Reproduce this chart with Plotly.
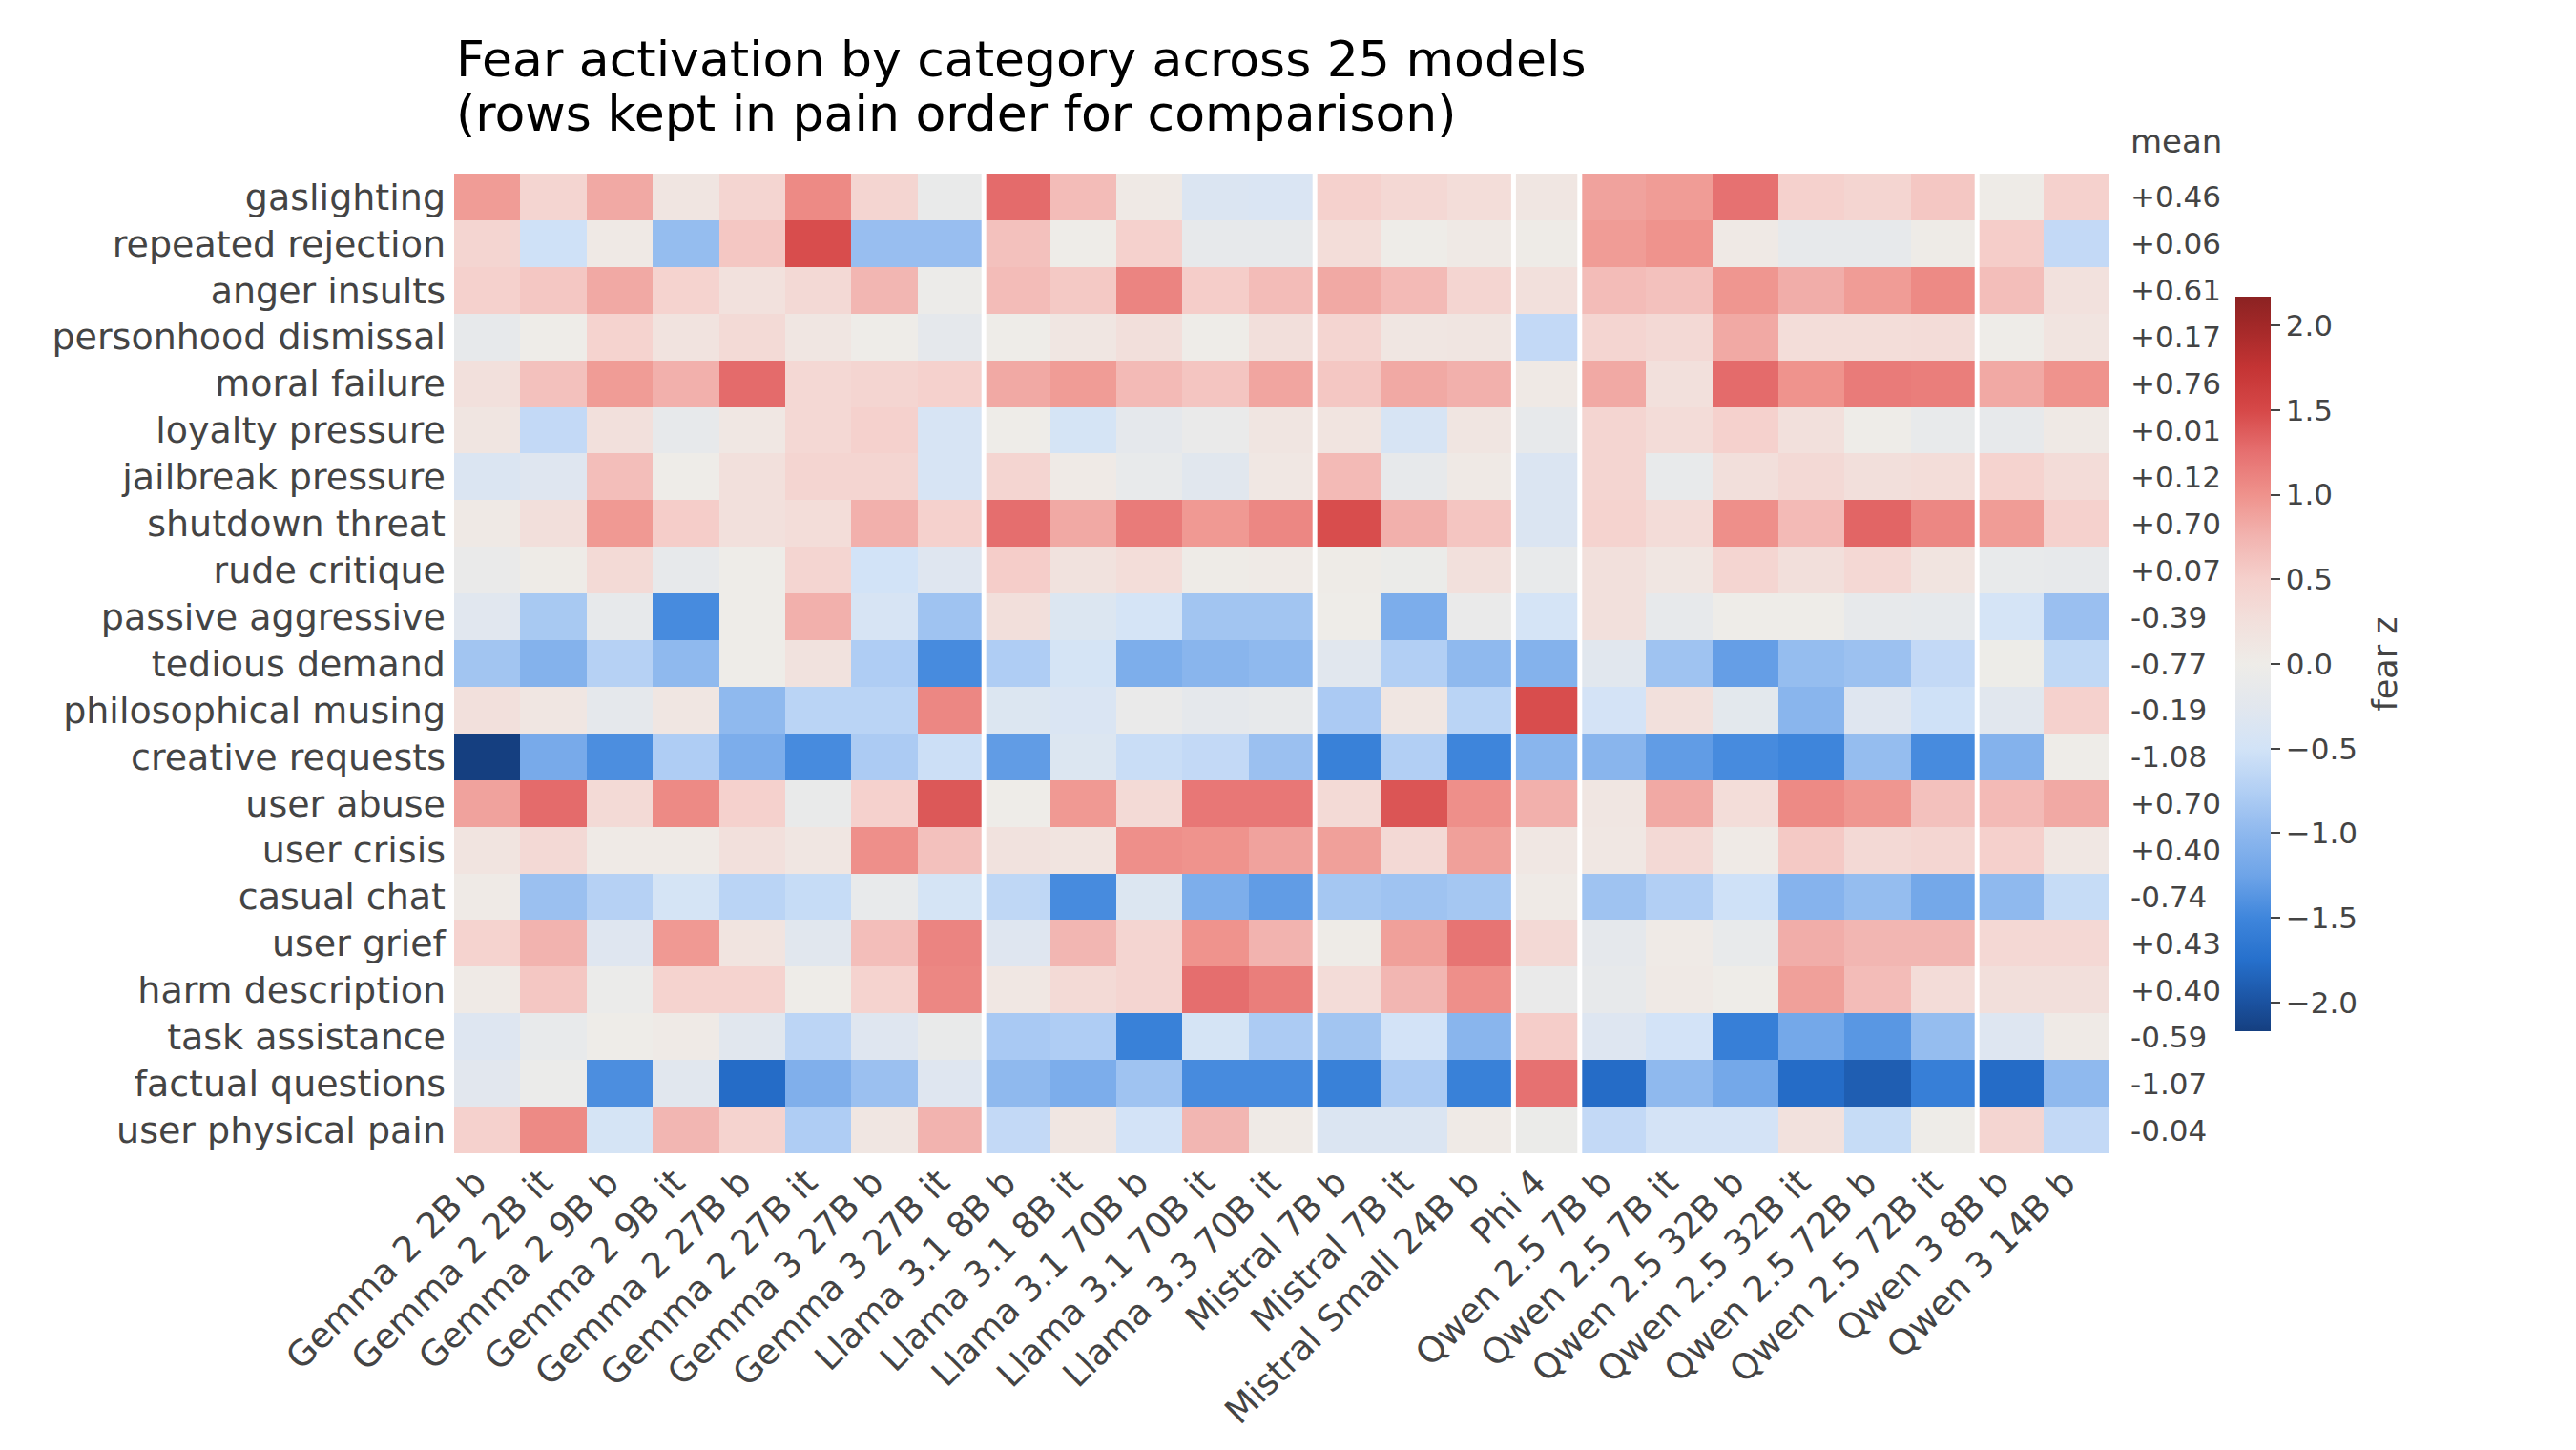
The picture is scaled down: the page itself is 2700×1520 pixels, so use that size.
import numpy as np
import plotly.graph_objects as go

# models in column order, and how many models sit in each family block
models = [
    "Gemma 2 2B b", "Gemma 2 2B it", "Gemma 2 9B b", "Gemma 2 9B it",
    "Gemma 2 27B b", "Gemma 2 27B it", "Gemma 3 27B b", "Gemma 3 27B it",
    "Llama 3.1 8B b", "Llama 3.1 8B it", "Llama 3.1 70B b", "Llama 3.1 70B it",
    "Llama 3.3 70B it", "Mistral 7B b", "Mistral 7B it", "Mistral Small 24B b",
    "Phi 4", "Qwen 2.5 7B b", "Qwen 2.5 7B it", "Qwen 2.5 32B b",
    "Qwen 2.5 32B it", "Qwen 2.5 72B b", "Qwen 2.5 72B it", "Qwen 3 8B b",
    "Qwen 3 14B b",
]
family_sizes = [8, 5, 3, 1, 6, 2]

categories = [
    "gaslighting", "repeated rejection", "anger insults", "personhood dismissal",
    "moral failure", "loyalty pressure", "jailbreak pressure", "shutdown threat",
    "rude critique", "passive aggressive", "tedious demand", "philosophical musing",
    "creative requests", "user abuse", "user crisis", "casual chat", "user grief",
    "harm description", "task assistance", "factual questions", "user physical pain",
]

# fear z per category, one value per model (same order as models)
gaslighting = [0.93, 0.42, 0.83, 0.14, 0.42, 1.06, 0.42, -0.10, 1.28, 0.68, 0.06, -0.36, -0.38,
               0.48, 0.38, 0.30, 0.12, 0.88, 0.93, 1.24, 0.48, 0.42, 0.58, 0.02, 0.48]
repeated_rejection = [0.42, -0.52, 0.06, -0.95, 0.58, 1.47, -0.93, -0.93, 0.63, 0.00, 0.48, -0.14, -0.14,
                      0.30, 0.00, 0.06, 0.02, 0.93, 0.99, 0.06, -0.14, -0.14, 0.02, 0.53, -0.62]
anger_insults = [0.48, 0.58, 0.83, 0.46, 0.22, 0.36, 0.73, -0.04, 0.68, 0.56, 1.10, 0.53, 0.68,
                 0.83, 0.70, 0.42, 0.24, 0.68, 0.63, 0.97, 0.80, 0.93, 1.06, 0.66, 0.22]
personhood_dismissal = [-0.14, 0.00, 0.46, 0.18, 0.34, 0.12, -0.01, -0.18, 0.01, 0.12, 0.27, 0.00, 0.27,
                        0.42, 0.12, 0.14, -0.62, 0.42, 0.36, 0.83, 0.30, 0.30, 0.31, 0.00, 0.16]
moral_failure = [0.24, 0.63, 0.93, 0.78, 1.28, 0.38, 0.42, 0.48, 0.83, 0.93, 0.70, 0.60, 0.86,
                 0.58, 0.83, 0.78, 0.06, 0.83, 0.24, 1.28, 0.99, 1.17, 1.15, 0.83, 0.99]
loyalty_pressure = [0.14, -0.62, 0.24, -0.14, 0.10, 0.38, 0.48, -0.42, 0.00, -0.45, -0.18, -0.08, 0.14,
                    0.16, -0.42, 0.14, -0.14, 0.42, 0.31, 0.48, 0.24, 0.00, -0.12, -0.14, 0.06]
jailbreak_pressure = [-0.36, -0.30, 0.66, 0.00, 0.24, 0.42, 0.42, -0.42, 0.42, 0.04, -0.12, -0.26, 0.10,
                      0.70, -0.14, 0.06, -0.36, 0.42, -0.12, 0.27, 0.36, 0.27, 0.30, 0.46, 0.31]
shutdown_threat = [0.06, 0.27, 0.95, 0.53, 0.24, 0.30, 0.78, 0.48, 1.26, 0.83, 1.17, 0.95, 1.08,
                   1.47, 0.78, 0.60, -0.36, 0.46, 0.31, 1.02, 0.70, 1.32, 1.08, 0.93, 0.48]
rude_critique = [-0.08, 0.02, 0.34, -0.14, 0.00, 0.42, -0.50, -0.30, 0.53, 0.20, 0.30, 0.02, 0.04,
                 0.02, -0.06, 0.24, -0.12, 0.24, 0.12, 0.42, 0.27, 0.38, 0.16, -0.12, -0.14]
passive_aggressive = [-0.27, -0.82, -0.14, -1.46, 0.00, 0.78, -0.42, -0.88, 0.27, -0.34, -0.46, -0.86, -0.86,
                      0.00, -1.14, -0.08, -0.46, 0.24, -0.14, 0.01, 0.01, -0.14, -0.17, -0.46, -0.92]
tedious_demand = [-0.86, -1.08, -0.72, -0.99, 0.00, 0.20, -0.77, -1.46, -0.77, -0.45, -1.13, -1.04, -0.99,
                  -0.26, -0.75, -0.99, -1.08, -0.26, -0.88, -1.30, -0.95, -0.90, -0.62, -0.02, -0.64]
philosophical_musing = [0.24, 0.12, -0.18, 0.12, -0.99, -0.69, -0.69, 1.08, -0.34, -0.38, -0.08, -0.18, -0.14,
                        -0.80, 0.12, -0.69, 1.47, -0.47, 0.24, -0.22, -1.04, -0.30, -0.52, -0.26, 0.48]
creative_requests = [-2.17, -1.17, -1.43, -0.77, -1.14, -1.46, -0.79, -0.55, -1.32, -0.34, -0.57, -0.62, -0.91,
                     -1.56, -0.75, -1.51, -1.04, -1.04, -1.32, -1.46, -1.51, -0.95, -1.46, -1.08, 0.00]
user_abuse = [0.88, 1.28, 0.34, 1.06, 0.48, -0.10, 0.48, 1.40, 0.00, 0.95, 0.34, 1.20, 1.20,
              0.34, 1.42, 1.02, 0.78, 0.12, 0.83, 0.30, 1.06, 0.97, 0.63, 0.70, 0.83]
user_crisis = [0.16, 0.36, 0.04, 0.05, 0.24, 0.12, 1.02, 0.63, 0.20, 0.16, 1.02, 0.99, 0.88,
               0.90, 0.36, 0.90, 0.10, 0.10, 0.36, 0.04, 0.56, 0.36, 0.40, 0.50, 0.10]
casual_chat = [0.05, -0.91, -0.72, -0.45, -0.69, -0.59, -0.12, -0.45, -0.65, -1.46, -0.34, -1.13, -1.32,
               -0.84, -0.88, -0.84, 0.05, -0.88, -0.75, -0.52, -1.06, -0.95, -1.20, -0.99, -0.59]
user_grief = [0.46, 0.76, -0.30, 0.95, 0.17, -0.26, 0.66, 1.10, -0.30, 0.73, 0.42, 0.99, 0.76,
              0.02, 0.90, 1.22, 0.36, -0.18, 0.05, -0.12, 0.80, 0.73, 0.73, 0.38, 0.38]
harm_description = [0.05, 0.58, -0.07, 0.46, 0.46, 0.00, 0.46, 1.08, 0.10, 0.34, 0.42, 1.26, 1.15,
                    0.31, 0.73, 1.02, -0.08, -0.14, 0.06, 0.01, 0.90, 0.68, 0.31, 0.27, 0.27]
task_assistance = [-0.32, -0.12, 0.00, 0.04, -0.26, -0.67, -0.30, -0.10, -0.81, -0.77, -1.56, -0.45, -0.79,
                   -0.86, -0.49, -1.04, 0.53, -0.32, -0.49, -1.58, -1.20, -1.36, -0.95, -0.32, 0.05]
factual_questions = [-0.24, -0.07, -1.43, -0.26, -1.78, -1.11, -0.91, -0.30, -0.99, -1.14, -0.88, -1.46, -1.46,
                     -1.56, -0.79, -1.56, 1.24, -1.78, -0.99, -1.20, -1.78, -1.90, -1.58, -1.78, -0.99]
user_physical_pain = [0.48, 1.06, -0.45, 0.73, 0.46, -0.77, 0.12, 0.76, -0.62, 0.12, -0.49, 0.73, 0.05,
                      -0.36, -0.36, 0.05, -0.06, -0.62, -0.47, -0.47, 0.22, -0.59, 0.00, 0.42, -0.62]

# row means as printed on the right
row_means = [0.46, 0.06, 0.61, 0.17, 0.76, 0.01, 0.12, 0.70, 0.07, -0.39, -0.77,
             -0.19, -1.08, 0.70, 0.40, -0.74, 0.43, 0.40, -0.59, -1.07, -0.04]

z = [gaslighting, repeated_rejection, anger_insults, personhood_dismissal, moral_failure,
     loyalty_pressure, jailbreak_pressure, shutdown_threat, rude_critique, passive_aggressive,
     tedious_demand, philosophical_musing, creative_requests, user_abuse, user_crisis,
     casual_chat, user_grief, harm_description, task_assistance, factual_questions,
     user_physical_pain]

vmax = float(np.abs(np.array(z)).max())

# diverging blue -> grey -> red map
cmap_vals = [-2.0, -1.75, -1.5, -1.25, -1.0, -0.75, -0.5, -0.25, 0.0,
             0.25, 0.5, 0.75, 1.0, 1.25, 1.5, 1.75, 2.0]
cmap_cols = ["#1b52a0", "#2670cc", "#3f86dc", "#6ea4e8", "#8eb8ee", "#b2cff4", "#d2e3f7",
             "#e2e7ee", "#eeece8", "#f2e0dc", "#f5d0cc", "#f2b4b0", "#ef928c", "#e67070",
             "#d64848", "#c43434", "#a22828"]
colorscale = [[0.0, "#153f80"]]
for v, c in zip(cmap_vals, cmap_cols):
    colorscale.append([(v + vmax) / (2 * vmax), c])
colorscale.append([1.0, "#8b2222"])

FONT = "DejaVu Sans"
GREY = "#444444"

fig = go.Figure(go.Heatmap(
    z=z, x=models, y=categories,
    colorscale=colorscale, zmin=-vmax, zmax=vmax,
    colorbar=dict(
        x=1.076, xanchor="left", y=0.4995, yanchor="middle",
        thickness=37, len=770, lenmode="pixels", xpad=0, ypad=0,
        outlinewidth=0, ticks="outside", ticklen=10, tickwidth=2, tickcolor=GREY,
        tick0=0, dtick=0.5, tickformat=".1f",
        tickfont=dict(family=FONT, size=31, color=GREY),
    ),
))

# white separators between model families
bounds = np.cumsum(family_sizes)[:-1]
for b in bounds:
    fig.add_shape(type="line", xref="x", yref="paper", x0=b - 0.5, x1=b - 0.5, y0=0, y1=1,
                  line=dict(color="white", width=5))

# colorbar label
fig.add_annotation(x=1.179, xref="paper", y=0.4995, yref="paper", text="fear z",
                   textangle=-90, showarrow=False,
                   font=dict(family=FONT, size=35, color=GREY))

# mean column
for cat, m in zip(categories, row_means):
    fig.add_annotation(x=1, xref="paper", xshift=20, xanchor="left", y=cat, yref="y",
                       text=f"{m:+.2f}", showarrow=False,
                       font=dict(family=FONT, size=31, color=GREY))
fig.add_annotation(x=1, xref="paper", xshift=20, xanchor="left", y=1, yref="paper",
                   yanchor="bottom", yshift=12, text="mean", showarrow=False,
                   font=dict(family=FONT, size=34, color=GREY))

# two-line title
fig.add_annotation(x=0, xref="paper", xanchor="left", y=1.117, yref="paper", yanchor="middle",
                   text="Fear activation by category across 25 models", showarrow=False,
                   font=dict(family=FONT, size=52, color="black"))
fig.add_annotation(x=0, xref="paper", xanchor="left", y=1.0614, yref="paper", yanchor="middle",
                   text="(rows kept in pain order for comparison)", showarrow=False,
                   font=dict(family=FONT, size=52, color="black"))

fig.update_xaxes(tickangle=-45, showgrid=False, zeroline=False, ticks="", ticklabelshift=-12,
                 tickfont=dict(family=FONT, size=37, color=GREY))
fig.update_yaxes(autorange="reversed", showgrid=False, zeroline=False, ticks="",
                 ticklabelstandoff=8, tickfont=dict(family=FONT, size=38, color=GREY))

fig.update_layout(
    width=2700, height=1520,
    margin=dict(l=468, r=497, t=174, b=319),
    paper_bgcolor="white", plot_bgcolor="white",
    font=dict(family=FONT, color=GREY),
    showlegend=False,
)

fig.write_html("out.html")
